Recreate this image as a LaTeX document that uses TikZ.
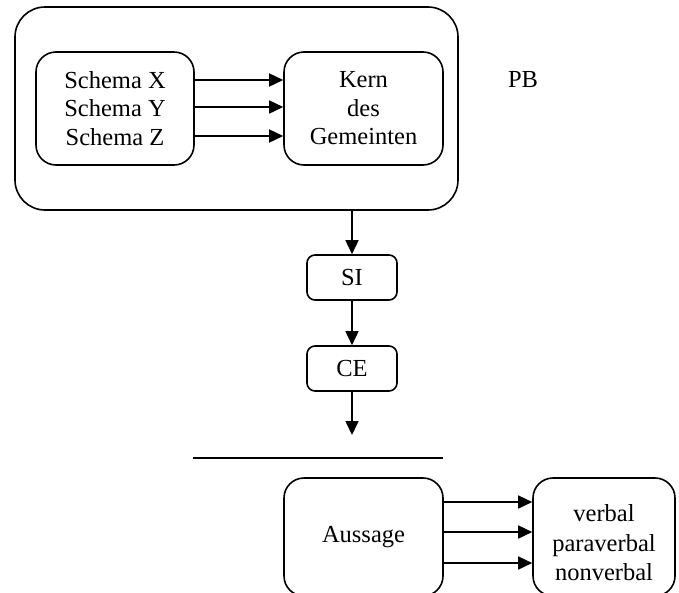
\documentclass[tikz,border=0pt]{standalone}
\usepackage{fontspec}
\setmainfont{Liberation Serif}
\usetikzlibrary{arrows.meta}
\begin{document}
\begin{tikzpicture}[x=1pt,y=-1pt,
  box/.style={draw,line width=1.6pt,inner sep=0pt,align=center,
    font=\fontsize{24.5}{28.5}\selectfont},
  arr/.style={line width=1.6pt,-{Triangle[length=14pt,width=13pt]}},
  lbl/.style={inner sep=0pt,align=center,font=\fontsize{24.5}{29.5}\selectfont}]
\clip (0,0) rectangle (679,592);
\node[box,rounded corners=30pt,minimum width=443pt,minimum height=203pt] (outer) at (236.5,108.5) {};
\node[box,rounded corners=20pt,minimum width=158pt,minimum height=113pt] (l) at (115,108.5) {Schema X\\Schema Y\\Schema Z};
\node[box,rounded corners=20pt,minimum width=159pt,minimum height=113pt] (r) at (363.5,108.5) {Kern\\des\\Gemeinten};
\node[lbl] (pb) at (523,80) {PB};
\foreach \s in {28.5,1.5,-27.5}
  \draw[arr] ([yshift=\s pt]l.east) -- ([yshift=\s pt]l.east -| r.west);
\node[box,rounded corners=8pt,minimum width=90pt,minimum height=45pt] (si) at (352,277.5) {SI};
\node[box,rounded corners=8pt,minimum width=90pt,minimum height=45pt] (ce) at (352,368.5) {CE};
\coordinate (e) at (352,435);
\draw[arr] (si.north |- outer.south) -- (si.north);
\draw[arr] (si.south) -- (ce.north);
\draw[arr] (ce.south) -- (e);
\coordinate (h1) at (193,458);
\coordinate (h2) at (443,458);
\draw[line width=1.6pt] (h1) -- (h2);
\node[box,rounded corners=20pt,minimum width=159pt,minimum height=118pt] (a) at (363.5,537) {Aussage};
\node[box,rounded corners=20pt,minimum width=142pt,minimum height=118pt] (v) at (604,537) {};
\node[lbl] (vt) at (604,543) {verbal\\paraverbal\\nonverbal};
\foreach \s in {35,5,-26}
  \draw[arr] ([yshift=\s pt]a.east) -- ([yshift=\s pt]a.east -| v.west);
\end{tikzpicture}
\end{document}
